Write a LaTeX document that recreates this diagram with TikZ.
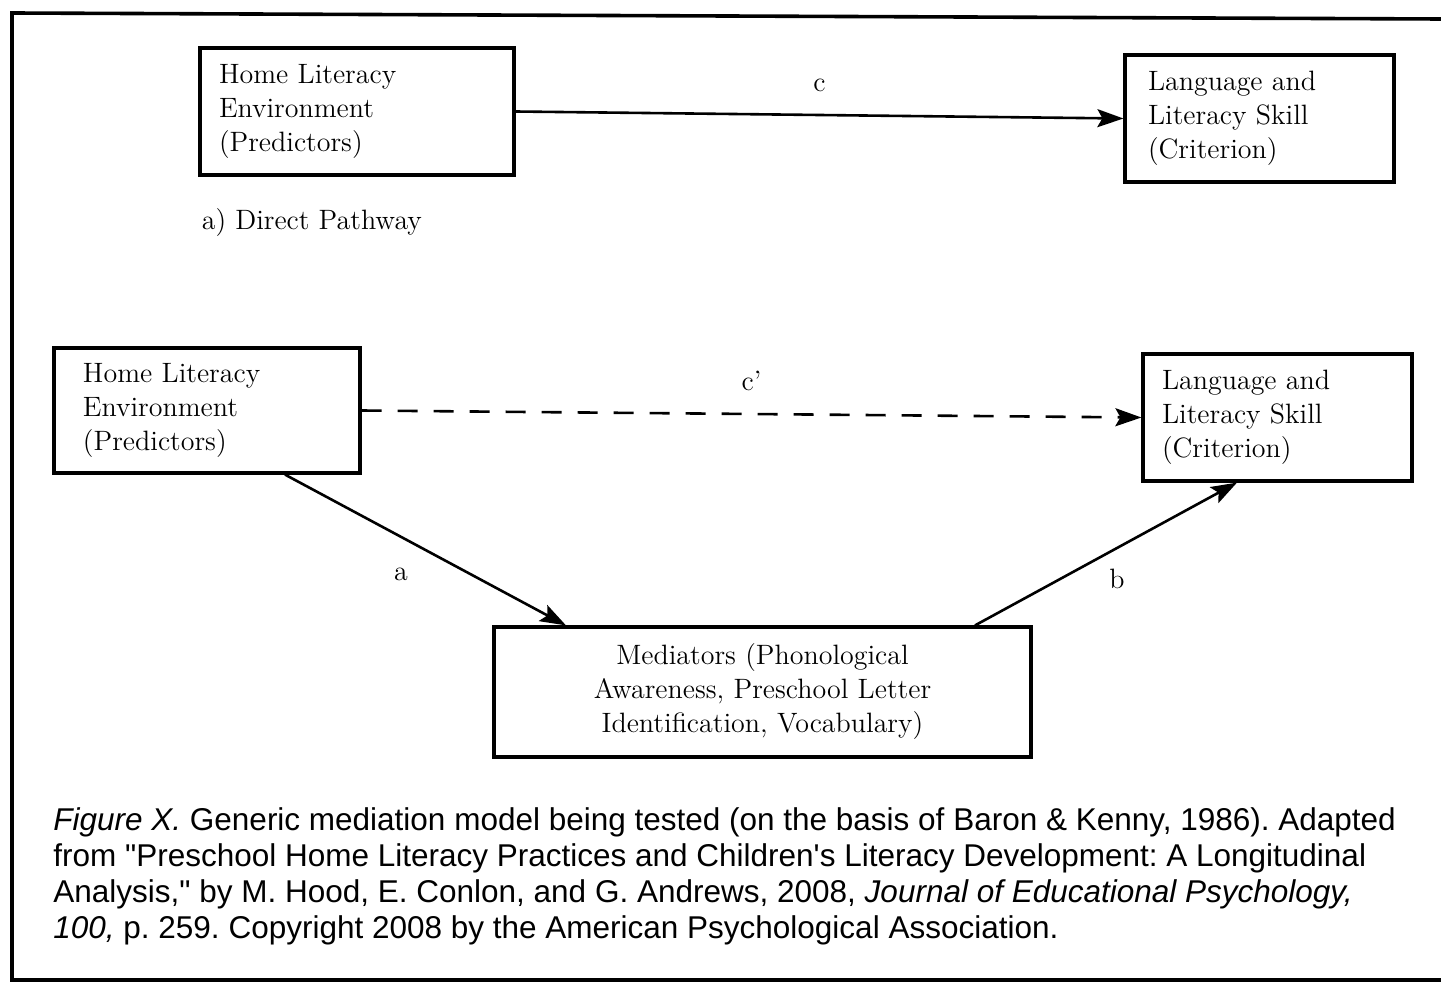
\documentclass[tikz,border=0pt]{standalone}
\usepackage{fontspec}
\newfontfamily\captionfont{Liberation Sans}
\usetikzlibrary{arrows.meta,positioning}
\frenchspacing

\newlength{\du}
\setlength{\du}{0.5pt}
\definecolor{dialinecolor}{rgb}{0.000000, 0.000000, 0.000000}

\tikzset{
  blockbox/.style={draw=dialinecolor, line width=1.6pt, minimum height=127\du,
    inner ysep=0pt, font=\fontsize{14}{17}\selectfont},
  pathlabel/.style={inner sep=0pt, text=dialinecolor, font=\fontsize{14}{17}\selectfont},
  flow/.style={draw=dialinecolor, line width=1.3pt,
    -{Stealth[length=13pt,width=9pt,inset=2.5pt]}},
}

\begin{document}
\begin{tikzpicture}[x=\du,y=-1\du]
\useasboundingbox (0,0) rectangle (1441,984);
% frame
\draw[dialinecolor, line width=1.8pt] (1441,19)--(12,13)--(12,980)--(1441,980);
% a) direct pathway
\node[blockbox, inner xsep=19\du, text width=276\du, align=left] (hle1) at (357,111.5)
  {Home Literacy\\Environment\\(Predictors)};
\node[blockbox, inner xsep=23\du, text width=223\du, align=left] (lls1) at (1259.5,118.5)
  {Language and\\Literacy Skill\\(Criterion)};
\draw[flow] (hle1.east) -- node[pathlabel, midway, above=11pt] (labc) {c} (lls1.west);
\node[pathlabel, below right=16pt and 1.5pt of hle1.south west] (direct) {a) Direct Pathway};
% mediated pathway
\node[blockbox, minimum height=125\du, inner xsep=29\du, text width=248\du, align=left] (hle2) at (207,410.5)
  {Home Literacy\\Environment\\(Predictors)};
\node[blockbox, inner xsep=19\du, text width=231\du, align=left] (lls2) at (1277.5,417.5)
  {Language and\\Literacy Skill\\(Criterion)};
\node[blockbox, minimum height=130\du, inner xsep=68.5\du, text width=400\du, align=center] (med) at (762.5,692)
  {Mediators (Phonological\\Awareness, Preschool Letter\\Identification, Vocabulary)};
\draw[flow, dash pattern=on 10pt off 8pt] (hle2.east) -- node[pathlabel, midway, above=11pt] (labcp) {c'} (lls2.west);
\draw[flow] ([xshift=78\du]hle2.south) -- node[pathlabel, pos=0.413, below=15pt] (laba) {a} ([xshift=-196.5\du]med.north);
\draw[flow] ([xshift=212.5\du]med.north) -- node[pathlabel, pos=0.542, below=10pt] (labb) {b} ([xshift=-40.5\du]lls2.south);
% caption
\node[anchor=north west, inner sep=0pt, align=left, text=dialinecolor,
  font=\captionfont\fontsize{15.75}{18.1}\selectfont] (caption) at (53,807)
  {\textit{Figure X.} Generic mediation model being tested (on the basis of Baron \& Kenny, 1986). Adapted\\
   from "Preschool Home Literacy Practices and Children's Literacy Development: A Longitudinal\\
   Analysis," by M. Hood, E. Conlon, and G. Andrews, 2008, \textit{Journal of Educational Psychology,}\\
   \textit{100,} p. 259. Copyright 2008 by the American Psychological Association.};
\end{tikzpicture}
\end{document}
